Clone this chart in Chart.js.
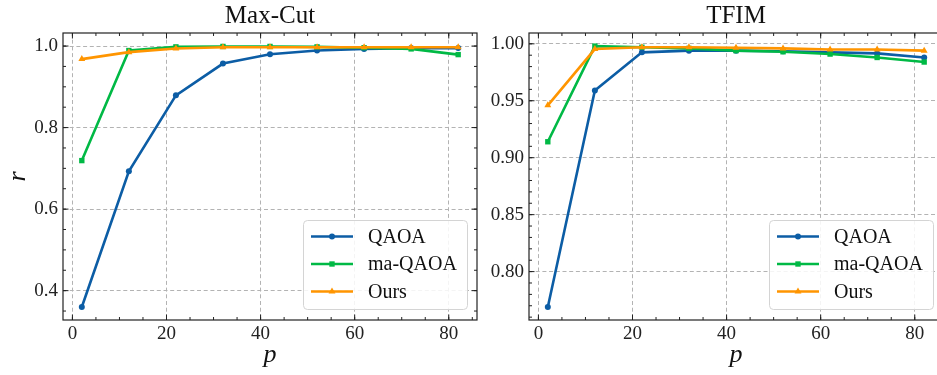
<!DOCTYPE html>
<html>
<head>
<meta charset="utf-8">
<script src="https://cdn.jsdelivr.net/npm/chart.js@4.4.0/dist/chart.umd.min.js"></script>
<style>
    body { margin: 0; background: #fff; width: 937px; height: 375px; overflow: hidden; position: relative; }
    canvas { position: absolute; top: 0; }
    #maxcut { left: 0; }
    #tfim { left: 481px; }
</style>
</head>
<body>
<canvas id="maxcut" width="481" height="375"></canvas>
<canvas id="tfim" width="466" height="375"></canvas>
<script>
// circuit depth p
var pValues = [2, 12, 22, 32, 42, 52, 62, 72, 82];

// Max-Cut approximation ratio r
var maxcutQaoa = [0.360, 0.693, 0.879, 0.957, 0.980, 0.989, 0.993, 0.995, 0.995];
var maxcutMaQaoa = [0.719, 0.989, 0.998, 0.999, 0.999, 0.998, 0.996, 0.993, 0.979];
var maxcutOurs = [0.968, 0.985, 0.994, 0.997, 0.997, 0.997, 0.997, 0.997, 0.997];

// TFIM approximation ratio r
var tfimQaoa = [0.769, 0.959, 0.9925, 0.994, 0.994, 0.9935, 0.9925, 0.9916, 0.988];
var tfimMaQaoa = [0.914, 0.998, 0.997, 0.996, 0.994, 0.993, 0.991, 0.988, 0.984];
var tfimOurs = [0.946, 0.9954, 0.997, 0.997, 0.9965, 0.996, 0.995, 0.995, 0.994];

var seriesNames = ['QAOA', 'ma-QAOA', 'Ours'];
var seriesColors = ['#0C5DA5', '#00B945', '#FF9500'];
var seriesMarkers = ['circle', 'rect', 'triangle'];
var markerSizes = [3, 3.8, 4];

var SERIF = "'Liberation Serif', 'Times New Roman', serif";
Chart.defaults.font.family = SERIF;
Chart.defaults.color = '#222';

function toPoints(values) {
    return values.map(function (v, i) { return { x: pValues[i], y: v }; });
}

// box around the plot with inward ticks on all four sides
var framePlugin = {
    id: 'frame',
    afterDatasetsDraw: function (chart, args, opts) {
        var ctx = chart.ctx;
        var a = chart.chartArea;
        var xs = chart.scales.x, ys = chart.scales.y;
        ctx.save();
        ctx.strokeStyle = '#222';
        ctx.lineWidth = 1.2;
        ctx.strokeRect(a.left, a.top, a.right - a.left, a.bottom - a.top);
        ctx.lineWidth = 1;
        function tickX(v, len) {
            var px = xs.getPixelForValue(v);
            ctx.beginPath();
            ctx.moveTo(px, a.bottom); ctx.lineTo(px, a.bottom - len);
            ctx.moveTo(px, a.top); ctx.lineTo(px, a.top + len);
            ctx.stroke();
        }
        function tickY(v, len) {
            var py = ys.getPixelForValue(v);
            ctx.beginPath();
            ctx.moveTo(a.left, py); ctx.lineTo(a.left + len, py);
            ctx.moveTo(a.right, py); ctx.lineTo(a.right - len, py);
            ctx.stroke();
        }
        var v;
        for (v = Math.ceil(xs.min / opts.xMinor) * opts.xMinor; v <= xs.max; v += opts.xMinor) tickX(v, 3);
        for (v = Math.ceil(ys.min / opts.yMinor) * opts.yMinor; v <= ys.max; v += opts.yMinor) tickY(v, 3);
        xs.ticks.forEach(function (t) { tickX(t.value, 5.5); });
        ys.ticks.forEach(function (t) { tickY(t.value, 5.5); });
        ctx.restore();
    }
};

// legend drawn inside the lower right corner
var insideLegend = {
    id: 'insideLegend',
    afterDraw: function (chart) {
        var ctx = chart.ctx;
        var a = chart.chartArea;
        var w = 164, h = 89;
        var left = a.right - 9.5 - w, top = a.bottom - 10.5 - h;
        ctx.save();
        ctx.beginPath();
        ctx.roundRect(left, top, w, h, 4);
        ctx.fillStyle = 'rgba(255,255,255,0.85)';
        ctx.fill();
        ctx.strokeStyle = '#d4d4d4';
        ctx.lineWidth = 1;
        ctx.stroke();
        chart.data.datasets.forEach(function (ds, i) {
            var y = top + 16 + i * 27.5;
            ctx.strokeStyle = ds.borderColor;
            ctx.lineWidth = 2.7;
            ctx.beginPath();
            ctx.moveTo(left + 7.5, y);
            ctx.lineTo(left + 49.5, y);
            ctx.stroke();
            ctx.fillStyle = ds.borderColor;
            Chart.helpers.drawPoint(ctx, { pointStyle: ds.pointStyle, radius: ds.pointRadius, borderWidth: 0, rotation: 0 }, left + 28.5, y);
            ctx.fillStyle = '#111';
            ctx.font = '20px ' + SERIF;
            ctx.textBaseline = 'middle';
            ctx.textAlign = 'left';
            ctx.fillText(ds.label, left + 64.5, y + 1);
        });
        ctx.restore();
    }
};

function makePanel(id, title, series, yMin, yMax, yStep, yMinor, decimals, yWidth, yLabel) {
    var datasets = series.map(function (values, i) {
        return {
            label: seriesNames[i],
            data: toPoints(values),
            borderColor: seriesColors[i],
            backgroundColor: seriesColors[i],
            borderWidth: 2.6,
            pointStyle: seriesMarkers[i],
            pointRadius: markerSizes[i],
            pointBorderWidth: 0,
            tension: 0,
            order: 3 - i
        };
    });
    var tickFont = { family: SERIF, size: 19 };
    var labelFont = { family: SERIF, size: 26, style: 'italic', lineHeight: 1 };
    return new Chart(document.getElementById(id), {
        type: 'line',
        data: { datasets: datasets },
        plugins: [framePlugin, insideLegend],
        options: {
            responsive: false,
            animation: false,
            devicePixelRatio: 1,
            layout: { padding: { left: 0, right: 2, top: 0, bottom: 0 } },
            plugins: {
                legend: { display: false },
                tooltip: { enabled: false },
                title: {
                    display: true, text: title, fullSize: false, color: '#111',
                    font: { family: SERIF, size: 25, weight: 'normal', lineHeight: 1 },
                    padding: { top: 4, bottom: 4 }
                },
                frame: { xMinor: 5, yMinor: yMinor }
            },
            scales: {
                x: {
                    type: 'linear', min: -2, max: 86,
                    afterFit: function (s) { s.height = 55; },
                    ticks: { stepSize: 20, includeBounds: false, padding: 3, maxRotation: 0, font: tickFont, color: '#222' },
                    grid: { color: '#b3b3b3', lineWidth: 1, drawTicks: false },
                    border: { display: false, dash: [4, 2.7] },
                    title: { display: true, text: 'p', color: '#111', font: labelFont, padding: { top: 0, bottom: 7 } }
                },
                y: {
                    min: yMin, max: yMax,
                    afterFit: function (s) { s.width = yWidth; },
                    ticks: {
                        stepSize: yStep, includeBounds: false, padding: 5, font: tickFont, color: '#222',
                        callback: function (v) { return v.toFixed(decimals); }
                    },
                    grid: { color: '#b3b3b3', lineWidth: 1, drawTicks: false },
                    border: { display: false, dash: [4, 2.7] },
                    title: { display: yLabel !== '', text: yLabel, color: '#111', font: labelFont, padding: { top: 5, bottom: 0 } }
                }
            }
        }
    });
}

makePanel('maxcut', 'Max-Cut', [maxcutQaoa, maxcutMaQaoa, maxcutOurs], 0.328, 1.032, 0.2, 0.05, 1, 63, 'r');
makePanel('tfim', 'TFIM', [tfimQaoa, tfimMaQaoa, tfimOurs], 0.7575, 1.0095, 0.05, 0.01, 2, 48, '');
</script>
</body>
</html>
